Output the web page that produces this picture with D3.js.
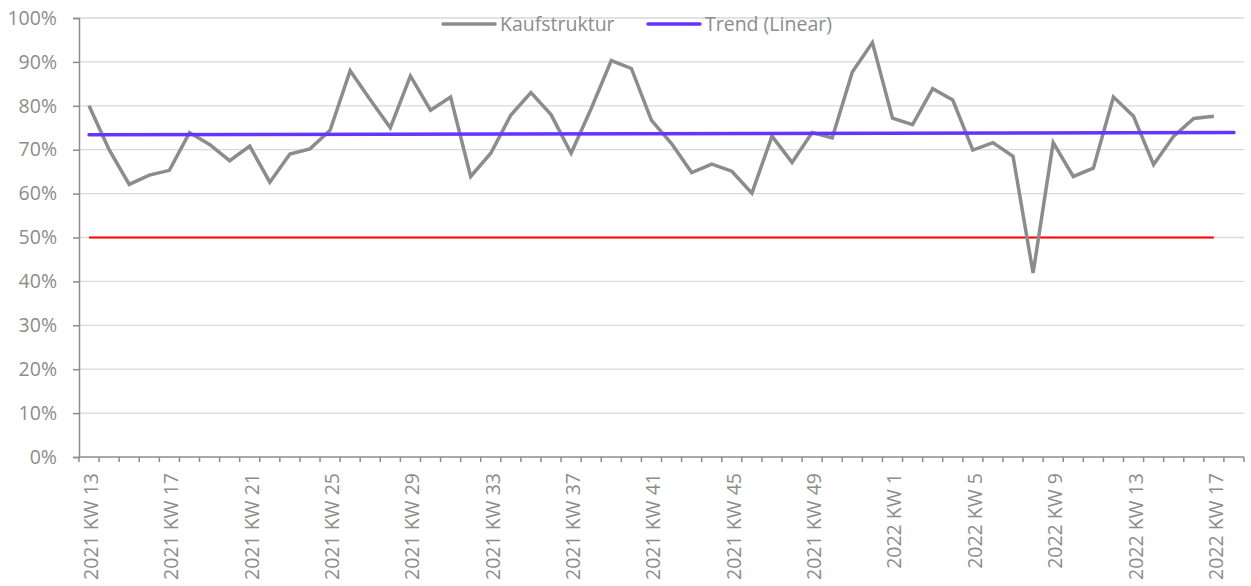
<!DOCTYPE html>
<html>
<head>
<meta charset="utf-8">
<script src="https://cdn.jsdelivr.net/npm/d3@7"></script>
<style>
  body { margin: 0; background: #fff; }
  text { font-family: "Open Sans", "Noto Sans", sans-serif; fill: #8c8c8c; }
</style>
</head>
<body>
<svg id="chart"></svg>
<script>
// Kalenderwochen 2021 KW 13 .. 2022 KW 17, plus one empty slot for the trend forecast
const weeks2021 = d3.range(13, 53).map((w) => "2021 KW " + w);
const weeks2022 = d3.range(1, 19).map((w) => "2022 KW " + w);
const categories = weeks2021.concat(weeks2022);

// Kaufstruktur in %
const kaufstruktur = [
  80, 70, 62.1, 64.2, 65.3, 73.9, 71.2, 67.5, 70.8, 62.6,
  69, 70.2, 74.4, 88, 81.4, 75, 86.8, 79, 82, 63.9,
  69.2, 77.9, 83, 78, 69.2, 79.4, 90.3, 88.5, 76.7, 71.4,
  64.8, 66.7, 65.1, 60.1, 73.1, 67.1, 73.9, 72.7, 87.7, 94.4,
  77.2, 75.7, 83.9, 81.3, 69.9, 71.6, 68.5, 41.9, 71.6, 63.9,
  65.8, 82, 77.6, 66.6, 73.1, 77.1, 77.6
];

// linear trend, start and end value
const trend = [73.4, 73.9];
const threshold = 50;

const yTicks = d3.range(0, 101, 10);

const width = 1251,
  height = 586,
  margin = { top: 18, right: 7, bottom: 129, left: 79 };

const svg = d3.select("#chart").attr("width", width).attr("height", height);

const x = d3
  .scaleBand()
  .domain(categories)
  .range([margin.left, width - margin.right]);

const y = d3
  .scaleLinear()
  .domain([0, 100])
  .range([height - margin.bottom, margin.top]);

const cx = (c) => x(c) + x.bandwidth() / 2;

// gridlines
svg
  .append("g")
  .selectAll("line")
  .data(yTicks.slice(1))
  .enter()
  .append("line")
  .attr("x1", margin.left)
  .attr("x2", width - margin.right)
  .attr("y1", (d) => y(d))
  .attr("y2", (d) => y(d))
  .attr("stroke", "#d9d9d9")
  .attr("stroke-width", 1.3);

// y axis
const yAxis = svg
  .append("g")
  .attr("transform", `translate(${margin.left},0)`)
  .call(
    d3.axisLeft(y).tickValues(yTicks).tickSize(6).tickPadding(16).tickFormat((d) => d + "%")
  );
yAxis.select(".domain").attr("stroke", "#8c8c8c").attr("stroke-width", 1.5);
yAxis.selectAll(".tick line").attr("stroke", "#8c8c8c").attr("stroke-width", 1.5);
yAxis.selectAll("text").style("font-size", "19.5px").attr("fill", "#8c8c8c");

// x axis: ticks between categories
const xAxisG = svg.append("g");
xAxisG
  .append("line")
  .attr("x1", margin.left)
  .attr("x2", width - margin.right)
  .attr("y1", y(0))
  .attr("y2", y(0))
  .attr("stroke", "#8c8c8c")
  .attr("stroke-width", 1.5);
xAxisG
  .selectAll(".xt")
  .data(categories.concat(["end"]))
  .enter()
  .append("line")
  .attr("class", "xt")
  .attr("x1", (d, i) => margin.left + i * x.bandwidth())
  .attr("x2", (d, i) => margin.left + i * x.bandwidth())
  .attr("y1", y(0))
  .attr("y2", y(0) + 5)
  .attr("stroke", "#8c8c8c")
  .attr("stroke-width", 1.5);
xAxisG
  .selectAll(".xl")
  .data(categories.filter((d, i) => i % 4 === 0 && i < kaufstruktur.length))
  .enter()
  .append("text")
  .attr("class", "xl")
  .attr("transform", (d) => `translate(${cx(d) + 9},${y(0) + 16}) rotate(-90)`)
  .attr("text-anchor", "end")
  .style("font-size", "19.5px")
  .text((d) => d);

const dataCats = categories.slice(0, kaufstruktur.length);

// 50% line
svg
  .append("line")
  .attr("x1", cx(dataCats[0]))
  .attr("x2", cx(dataCats[dataCats.length - 1]))
  .attr("y1", y(threshold))
  .attr("y2", y(threshold))
  .attr("stroke", "#ff0000")
  .attr("stroke-width", 1.8);

// Kaufstruktur line
const line = d3
  .line()
  .x((d, i) => cx(dataCats[i]))
  .y((d) => y(d));

svg
  .append("path")
  .datum(kaufstruktur)
  .attr("d", line)
  .attr("fill", "none")
  .attr("stroke", "#8c8c8c")
  .attr("stroke-width", 3.5)
  .attr("stroke-linejoin", "miter");

// trend line
svg
  .append("line")
  .attr("x1", cx(categories[0]))
  .attr("x2", cx(categories[categories.length - 1]))
  .attr("y1", y(trend[0]))
  .attr("y2", y(trend[1]))
  .attr("stroke", "#6633ff")
  .attr("stroke-width", 3.5)
  .attr("stroke-linecap", "round");

// legend
const legend = [
  { name: "Kaufstruktur", color: "#8c8c8c", x: 443 },
  { name: "Trend (Linear)", color: "#6633ff", x: 648 }
];
const lg = svg
  .selectAll(".legend")
  .data(legend)
  .enter()
  .append("g")
  .attr("transform", (d) => `translate(${d.x},24)`);
lg.append("line")
  .attr("x1", 0)
  .attr("x2", 52)
  .attr("stroke", (d) => d.color)
  .attr("stroke-width", 3.5)
  .attr("stroke-linecap", "round");
lg.append("text")
  .attr("x", 57)
  .attr("y", 7)
  .style("font-size", "19.5px")
  .text((d) => d.name);
</script>
</body>
</html>
